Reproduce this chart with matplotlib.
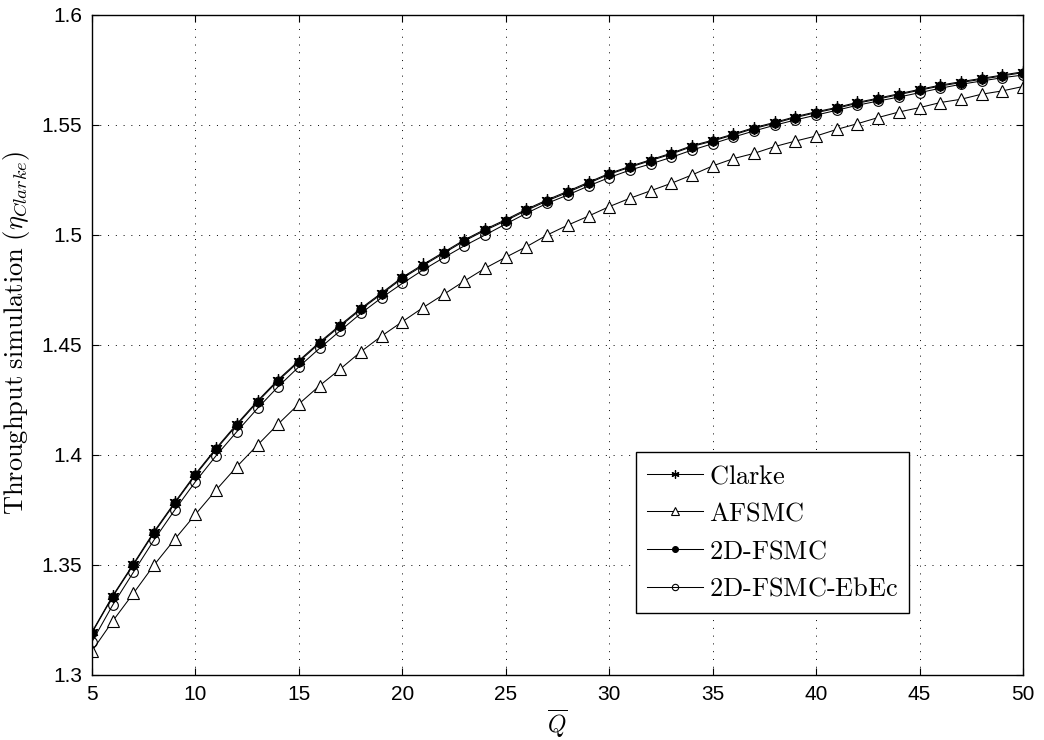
import matplotlib
matplotlib.use("Agg")
import matplotlib.pyplot as plt
import numpy as np

plt.rcParams['mathtext.fontset'] = 'cm'

Q = list(range(5, 51))

fsmc2d = [1.3192, 1.3356, 1.3500, 1.3647, 1.3780, 1.3909, 1.4026, 1.4136, 1.4241, 1.4338,
          1.4424, 1.4508, 1.4586, 1.4662, 1.4732, 1.4803, 1.4861, 1.4917, 1.4973, 1.5021,
          1.5065, 1.5112, 1.5155, 1.5194, 1.5235, 1.5276, 1.5308, 1.5338, 1.5368, 1.5402,
          1.5427, 1.5455, 1.5484, 1.5508, 1.5534, 1.5556, 1.5576, 1.5599, 1.5618, 1.5638,
          1.5658, 1.5677, 1.5693, 1.5708, 1.5723, 1.5738]

clarke = [1.3196, 1.3360, 1.3505, 1.3652, 1.3785, 1.3914, 1.4031, 1.4141, 1.4246, 1.4343,
          1.4429, 1.4513, 1.4591, 1.4667, 1.4737, 1.4808, 1.4866, 1.4922, 1.4978, 1.5026,
          1.5070, 1.5117, 1.5160, 1.5199, 1.5240, 1.5280, 1.5312, 1.5342, 1.5372, 1.5406,
          1.5431, 1.5459, 1.5488, 1.5512, 1.5538, 1.5560, 1.5580, 1.5603, 1.5622, 1.5642,
          1.5662, 1.5681, 1.5697, 1.5712, 1.5727, 1.5742]

ebec = [1.3151, 1.3318, 1.3467, 1.3614, 1.3750, 1.3879, 1.3997, 1.4106, 1.4212, 1.4311,
        1.4401, 1.4485, 1.4565, 1.4644, 1.4715, 1.4780, 1.4841, 1.4897, 1.4951, 1.5000,
        1.5050, 1.5099, 1.5144, 1.5182, 1.5223, 1.5261, 1.5295, 1.5323, 1.5353, 1.5386,
        1.5415, 1.5445, 1.5473, 1.5499, 1.5523, 1.5545, 1.5567, 1.5590, 1.5609, 1.5627,
        1.5647, 1.5667, 1.5685, 1.5700, 1.5715, 1.5727]

afsmc = [1.3109, 1.3245, 1.3371, 1.3500, 1.3617, 1.3730, 1.3841, 1.3947, 1.4045, 1.4141,
         1.4232, 1.4315, 1.4391, 1.4470, 1.4541, 1.4606, 1.4670, 1.4730, 1.4791, 1.4849,
         1.4899, 1.4947, 1.5000, 1.5045, 1.5086, 1.5129, 1.5167, 1.5201, 1.5235, 1.5273,
         1.5314, 1.5347, 1.5371, 1.5402, 1.5427, 1.5450, 1.5480, 1.5506, 1.5534, 1.5559,
         1.5579, 1.5602, 1.5617, 1.5640, 1.5655, 1.5675]

labels = ["Clarke", "AFSMC", "2D-FSMC", "2D-FSMC-EbEc"]
xticks = [5, 10, 15, 20, 25, 30, 35, 40, 45, 50]
yticks = [1.3, 1.35, 1.4, 1.45, 1.5, 1.55, 1.6]
ytick_labels = ["1.3", "1.35", "1.4", "1.45", "1.5", "1.55", "1.6"]


def rm(s):
    return r'$\mathrm{' + s.replace('-', '\\text{-}') + '}$'


fig = plt.figure(figsize=(10.44, 7.40), dpi=100)
ax = fig.add_axes([92/1044, 1 - 675/740, (1023-92)/1044, (675-15)/740])

lw = 0.75
ax.plot(Q, clarke, color='black', lw=lw, marker=(6, 2, 0), ms=9, mfc='black', mec='black', mew=0.9,
        label=rm(labels[0]))
ax.plot(Q, afsmc, color='black', lw=lw, marker='^', ms=8.5, mfc='white', mec='black', mew=0.8,
        label=rm(labels[1]))
ax.plot(Q, fsmc2d, color='black', lw=lw, marker='o', ms=6.5, mfc='black', mec='black', mew=0.8,
        label=rm(labels[2]))
ax.plot(Q, ebec, color='black', lw=lw, marker='o', ms=7, mfc='none', mec='black', mew=0.8,
        label=rm(labels[3]))

ax.set_xlim(5, 50)
ax.set_ylim(1.3, 1.6)
ax.set_xticks(xticks)
ax.set_xticklabels([str(t) for t in xticks], family='Liberation Sans', fontsize=15)
ax.set_yticks(yticks)
ax.set_yticklabels(ytick_labels, family='Liberation Sans', fontsize=15)
ax.tick_params(direction='in', top=True, right=True, length=5, width=0.8, pad=7)
ax.grid(True, color='black', linestyle=(0, (1, 7)), linewidth=0.7)
for s in ax.spines.values():
    s.set_linewidth(1.0)

ax.set_xlabel(r'$\overline{Q}$', fontsize=17, labelpad=3)
ax.set_ylabel(r'$\mathrm{Throughput\ simulation\ (}\eta_{Clarke}\mathrm{)}$', fontsize=19)
ax.yaxis.set_label_coords(-0.064, 0.518)

leg = ax.legend(loc='upper left', bbox_to_anchor=((636-92)/(1023-92), (675-452)/(675-15)),
                prop={'size': 19}, frameon=True, fancybox=False,
                edgecolor='black', framealpha=1, borderpad=0.42, handlelength=2.1,
                handletextpad=0.23, labelspacing=0.44, borderaxespad=0, markerscale=0.65)
leg.get_frame().set_linewidth(1.0)

fig.savefig('out.png', dpi=100, facecolor='white')
